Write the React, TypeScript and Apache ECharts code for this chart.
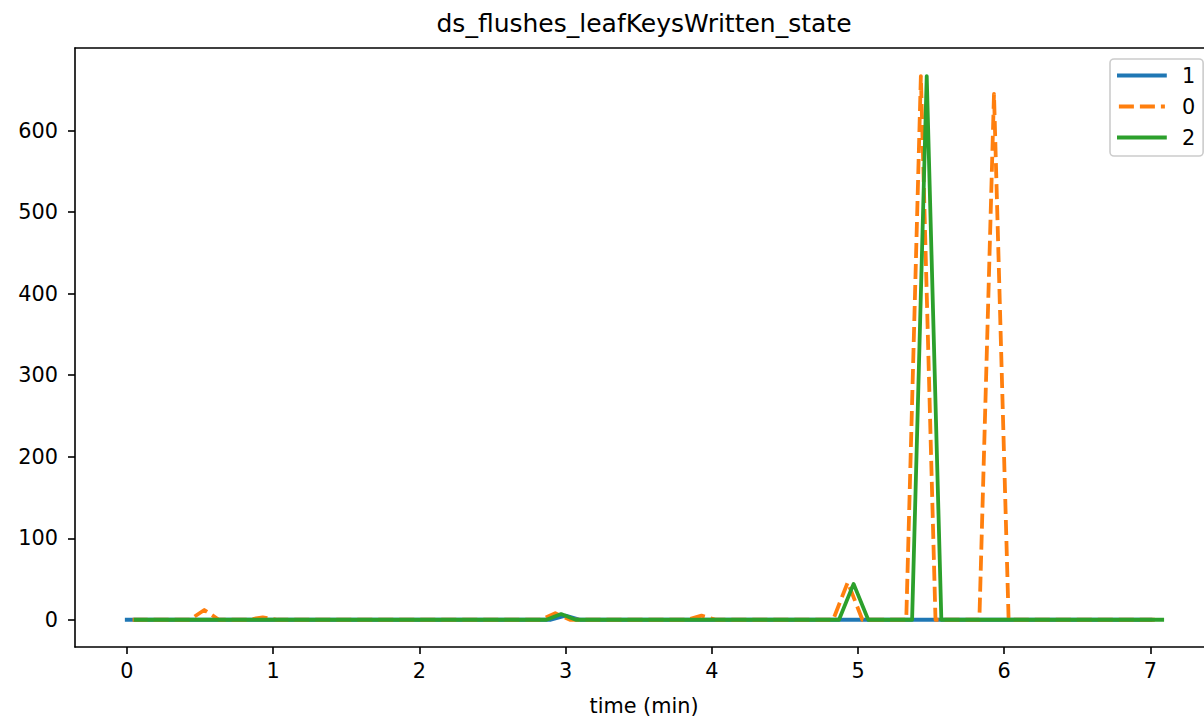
import React, { useEffect, useRef } from "react";
import * as echarts from "echarts";

// Series "1" (blue) – vertices of the polyline (time in minutes, value)
const s1Time = [0.0, 2.9, 3.0, 3.1, 7.0];
const s1Values = [0, 0, 5, 0, 0];

// Series "0" (orange, dashed)
const s0Time = [0.04, 0.43, 0.53, 0.63, 0.83, 0.93, 1.03, 2.83, 2.93, 3.03, 3.83, 3.93, 4.03, 4.83, 4.93, 5.03, 5.33, 5.43, 5.53, 5.83, 5.93, 6.03, 7.04];
const s0Values = [0, 0, 12, 0, 0, 3, 0, 0, 8, 0, 0, 5, 0, 0, 46, 0, 0, 667, 0, 0, 645, 0, 0];

// Series "2" (green)
const s2Time = [0.06, 2.87, 2.97, 3.07, 4.87, 4.97, 5.07, 5.37, 5.47, 5.57, 7.08];
const s2Values = [0, 0, 7, 0, 0, 44, 0, 0, 667, 0, 0];

const seriesNames = ["1", "0", "2"];
const seriesColors = ["#1f77b4", "#ff7f0e", "#2ca02c"];
const xTicks = [0, 1, 2, 3, 4, 5, 6, 7];
const yTicks = [0, 100, 200, 300, 400, 500, 600];

const title = "ds_flushes_leafKeysWritten_state";
const xLabel = "time (min)";

const zip = (t: number[], v: number[]) => t.map((x, i) => [x, v[i]]);

export default function App() {
  const ref = useRef<HTMLDivElement>(null);
  useEffect(() => {
    if (!ref.current) return;
    const chart = echarts.init(ref.current, null, { renderer: "svg" });
    const font = "DejaVu Sans";
    const lw = 3.8;
    const datasets = [zip(s1Time, s1Values), zip(s0Time, s0Values), zip(s2Time, s2Values)];
    const axisLine = { show: true, onZero: false, lineStyle: { color: "#000", width: 1.6 } };
    chart.setOption({
      animation: false,
      backgroundColor: "#ffffff",
      textStyle: { fontFamily: font },
      grid: {
        left: 75,
        right: 0,
        top: 48,
        bottom: 74,
        show: false,
        containLabel: false,
      },
      graphic: [
        {
          type: "text",
          x: 644,
          y: 23,
          style: {
            text: title,
            fontFamily: font,
            fontSize: 25,
            fill: "#000",
            align: "center",
            verticalAlign: "middle",
          },
        },
        {
          type: "text",
          x: 644,
          y: 706,
          style: {
            text: xLabel,
            fontFamily: font,
            fontSize: 20.8,
            fill: "#000",
            align: "center",
            verticalAlign: "middle",
          },
        },
      ],
      legend: {
        data: seriesNames,
        orient: "vertical",
        left: 1110,
        top: 59,
        padding: [6, 8, 8, 7],
        itemWidth: 46,
        itemHeight: 14,
        itemGap: 10,
        backgroundColor: "rgba(255,255,255,0.8)",
        borderColor: "#cccccc",
        borderWidth: 1.6,
        borderRadius: 4,
        itemStyle: { opacity: 0 },
        lineStyle: { width: lw },
        textStyle: {
          fontFamily: font,
          fontSize: 20.8,
          color: "#000",
          padding: [0, 0, 0, 12],
        },
      },
      xAxis: [
        {
          type: "value",
          position: "bottom",
          min: -0.354,
          max: 7.366,
          splitLine: { show: false },
          axisLine,
          axisTick: { show: true, length: 7, customValues: xTicks, lineStyle: { color: "#000", width: 1.6 } },
          axisLabel: {
            customValues: xTicks,
            fontFamily: font,
            fontSize: 20.8,
            color: "#000",
            margin: 13,
          },
        },
        {
          type: "value",
          position: "top",
          min: -0.354,
          max: 7.366,
          splitLine: { show: false },
          axisLine,
          axisTick: { show: false },
          axisLabel: { show: false },
        },
      ],
      yAxis: {
        type: "value",
        min: -33.4,
        max: 701.4,
        splitLine: { show: false },
        axisLine,
        axisTick: { show: true, length: 7, customValues: yTicks, lineStyle: { color: "#000", width: 1.6 } },
        axisLabel: {
          customValues: yTicks,
          fontFamily: font,
          fontSize: 20.8,
          color: "#000",
          margin: 17,
        },
      },
      series: seriesNames.map((name, i) => ({
        name,
        type: "line",
        xAxisIndex: 0,
        data: datasets[i],
        showSymbol: false,
        symbol: "none",
        color: seriesColors[i],
        lineStyle: {
          color: seriesColors[i],
          width: lw,
          type: i === 1 ? [15, 6] : "solid",
          join: "round",
          cap: i === 1 ? "butt" : "square",
        },
      })),
    });
    return () => chart.dispose();
  }, []);
  return <div ref={ref} style={{ width: 1204, height: 721, position: "absolute", left: 0, top: 0 }} />;
}
